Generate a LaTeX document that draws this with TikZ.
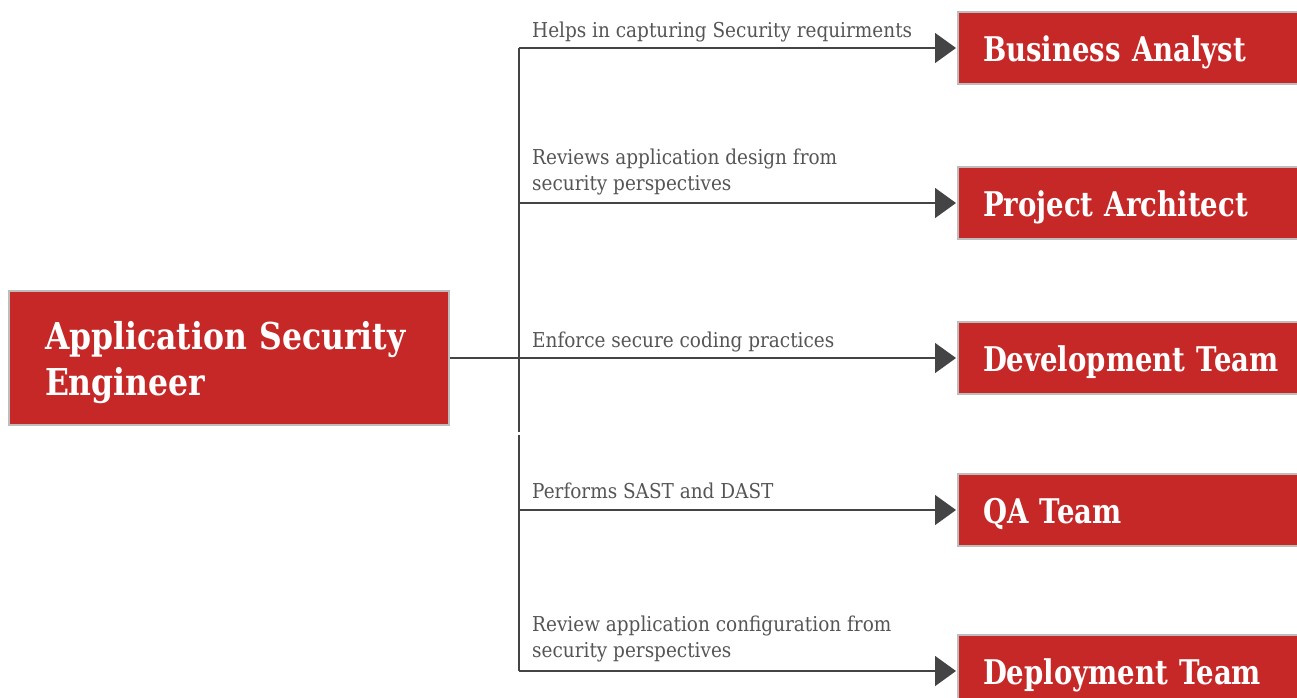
\documentclass[tikz,border=0pt]{standalone}
\usepackage{fontspec}
\usetikzlibrary{arrows.meta}
\newfontfamily\lblfont[FakeStretch=0.9]{DejaVu Serif}
\newfontfamily\boxfontfam[FakeStretch=0.81]{DejaVu Serif}
\newfontfamily\mainfontfam[FakeStretch=0.85]{DejaVu Serif}
\definecolor{boxred}{HTML}{C62828}
\definecolor{boxgray}{HTML}{BDBDBD}
\definecolor{linegray}{HTML}{444444}
\definecolor{lblgray}{HTML}{555555}
\tikzset{
  rolebox/.style={draw=boxgray, line width=2pt, fill=boxred, anchor=north west,
    minimum height=72pt, inner xsep=25pt, inner ysep=0pt, text width=300pt, align=left,
    text=white, font=\boxfontfam\bfseries\fontsize{34}{40}\selectfont,
    text height=27pt, text depth=0pt},
  mainbox/.style={draw=boxgray, line width=2pt, fill=boxred, anchor=north west,
    minimum width=440pt, minimum height=134pt, inner xsep=36pt, text width=368pt, align=left,
    text=white, font=\mainfontfam\bfseries\fontsize{37}{46}\selectfont, text depth=46pt},
  lbl/.style={anchor=base west, inner sep=0pt, align=left, text=lblgray,
    font=\lblfont\fontsize{20.5}{25.5}\selectfont},
  conn/.style={draw=linegray, line width=1.5pt},
  arr/.style={conn, -{Triangle[length=21pt,width=30pt]}, shorten >=1pt},
}
\begin{document}
\begin{tikzpicture}[x=1pt,y=-1pt]
\useasboundingbox (0,0) rectangle (1297,697);
% nodes
\node[mainbox] (ase) at (8,290) {Application Security\\Engineer};
\node[rolebox] (ba) at (957,11)  {Business Analyst};
\node[rolebox] (pa) at (957,166) {Project Architect};
\node[rolebox] (dt) at (957,321) {Development Team};
\node[rolebox] (qa) at (957,473) {QA Team};
\node[rolebox] (dp) at (957,634) {Deployment Team};
% trunk
\coordinate (trunk) at (519,357);
\coordinate (gapA) at (519,432);
\coordinate (gapB) at (519,435);
\draw[conn] (trunk |- ba.west) -- (gapA);
\draw[conn] (gapB) -- (trunk |- dp.west);
% connectors
\draw[arr] (ase.east) -- (dt.west);
\draw[arr] (trunk |- ba.west) -- (ba.west);
\draw[arr] (trunk |- pa.west) -- (pa.west);
\draw[arr] (trunk |- qa.west) -- (qa.west);
\draw[arr] (trunk |- dp.west) -- (dp.west);
% labels
\node[lbl] (l1) at (532,37)  {Helps in capturing Security requirments};
\node[lbl] (l2) at (532,190) {Reviews application design from\\security perspectives};
\node[lbl] (l3) at (532,347) {Enforce secure coding practices};
\node[lbl] (l4) at (532,498) {Performs SAST and DAST};
\node[lbl] (l5) at (532,657) {Review application configuration from\\security perspectives};
\end{tikzpicture}
\end{document}
